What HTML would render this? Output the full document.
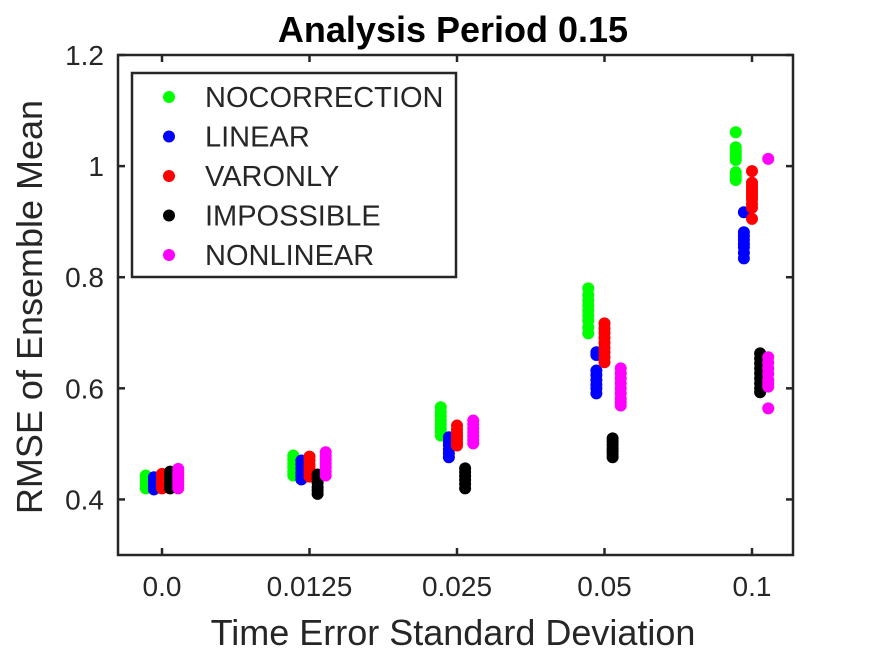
<!DOCTYPE html>
<html><head><meta charset="utf-8"><style>
body{margin:0;background:#fff}
svg text{font-family:"Liberation Sans",sans-serif;fill:#262626}
</style></head><body>
<svg id="chart" width="875" height="656" xmlns="http://www.w3.org/2000/svg">
<rect x="0" y="0" width="875" height="656" fill="#fff"/>
<text x="453" y="42" text-anchor="middle" font-size="36" font-weight="bold" style="fill:#000">Analysis Period 0.15</text>
<g id="ticks"></g>
<g id="marks"></g>
<rect x="118" y="55" width="675" height="500" fill="none" stroke="#262626" stroke-width="2.5"/>
<text x="453" y="645" text-anchor="middle" font-size="36">Time Error Standard Deviation</text>
<text transform="translate(42,307) rotate(-90)" text-anchor="middle" font-size="36">RMSE of Ensemble Mean</text>
<g id="legend">
<rect x="132" y="73" width="324" height="204" fill="#fff" stroke="#262626" stroke-width="2.5"/>
</g>
</svg>
<script>
const categories=["0.0","0.0125","0.025","0.05","0.1"];
const seriesNames=["NOCORRECTION","LINEAR","VARONLY","IMPOSSIBLE","NONLINEAR"];
const seriesColors=["#00ff00","#0000ff","#ff0000","#000000","#ff00ff"];
const yTicks=[0.4,0.6,0.8,1,1.2];
const yTickLabels=["0.4","0.6","0.8","1","1.2"];
const nocorrection=[[0.443,0.438,0.432,0.426,0.42],[0.479,0.472,0.465,0.458,0.45,0.443],[0.566,0.557,0.55,0.542,0.535,0.528,0.522,0.515],[0.78,0.768,0.758,0.749,0.74,0.731,0.722,0.71,0.699],[1.061,1.034,1.028,1.023,1.017,1.011,0.989,0.982,0.975]];
const linear=[[0.44,0.434,0.428,0.423,0.418],[0.47,0.463,0.456,0.448,0.442,0.436],[0.512,0.505,0.498,0.49,0.483,0.476],[0.665,0.66,0.632,0.624,0.615,0.607,0.6,0.591],[0.917,0.881,0.874,0.867,0.86,0.854,0.844,0.834]];
const varonly=[[0.446,0.44,0.433,0.427,0.42],[0.477,0.47,0.462,0.455,0.448,0.441],[0.533,0.526,0.52,0.514,0.508,0.502,0.497],[0.717,0.708,0.7,0.691,0.682,0.673,0.665,0.656,0.647],[0.991,0.97,0.965,0.96,0.955,0.95,0.945,0.94,0.932,0.925,0.905]];
const impossible=[[0.45,0.444,0.437,0.43,0.425,0.42],[0.445,0.438,0.43,0.422,0.416,0.41],[0.456,0.449,0.442,0.435,0.428,0.42],[0.51,0.504,0.498,0.492,0.487,0.482,0.476],[0.663,0.654,0.645,0.636,0.627,0.618,0.609,0.6,0.593]];
const nonlinear=[[0.455,0.449,0.444,0.438,0.432,0.426,0.42],[0.485,0.478,0.472,0.465,0.458,0.45,0.443],[0.542,0.535,0.528,0.521,0.514,0.507,0.501],[0.636,0.627,0.618,0.609,0.6,0.591,0.582,0.575,0.569],[1.013,0.656,0.646,0.636,0.626,0.615,0.609,0.603,0.564]];
const allSeries=[nocorrection,linear,varonly,impossible,nonlinear];
const seriesOffsets=[-0.11,-0.055,0,0.055,0.11];
const NS="http://www.w3.org/2000/svg";
function xScale(i){return 162+i*147.5;}
function yScale(v){return 555-(v-0.3)/0.9*500;}
const ticks=document.getElementById('ticks');
const marks=document.getElementById('marks');
function mk(tag,attrs,parent){const e=document.createElementNS(NS,tag);for(const k in attrs)e.setAttribute(k,attrs[k]);parent.appendChild(e);return e;}
yTicks.forEach((v,i)=>{
 const y=yScale(v);
 const t=mk('line',{x1:118,x2:125,y1:y,y2:y,stroke:'#262626','stroke-width':2.5},ticks);
 
 
 const t2=mk('line',{x1:786,x2:793,y1:y,y2:y,stroke:'#262626','stroke-width':2.5},ticks);
 
 
 const l=mk('text',{x:104,y:y+10,'text-anchor':'end','font-size':28},ticks);
 l.textContent=yTickLabels[i];
 
 
});
categories.forEach((c,i)=>{
 const x=xScale(i);
 const t=mk('line',{x1:x,x2:x,y1:555,y2:548,stroke:'#262626','stroke-width':2.5},ticks);
 
 
 const t2=mk('line',{x1:x,x2:x,y1:55,y2:62,stroke:'#262626','stroke-width':2.5},ticks);
 
 
 const l=mk('text',{x:x,y:596,'text-anchor':'middle','font-size':28},ticks);
 l.textContent=c;
 
 
});
allSeries.forEach((ser,s)=>{
 ser.forEach((vals,i)=>{
  vals.forEach(v=>{
   const p=mk('circle',{cx:xScale(i+seriesOffsets[s]),cy:yScale(v),r:6,fill:seriesColors[s]},marks);
   
   
  });
 });
});
const lg=document.getElementById('legend');
seriesNames.forEach((n,s)=>{
 const y=97+s*39.5;
 const c=mk('circle',{cx:169,cy:y,r:6,fill:seriesColors[s]},lg);
 
 
 const t=mk('text',{x:205,y:y+10,'font-size':29},lg);
 t.textContent=n;
 
 
});
</script>
</body></html>
